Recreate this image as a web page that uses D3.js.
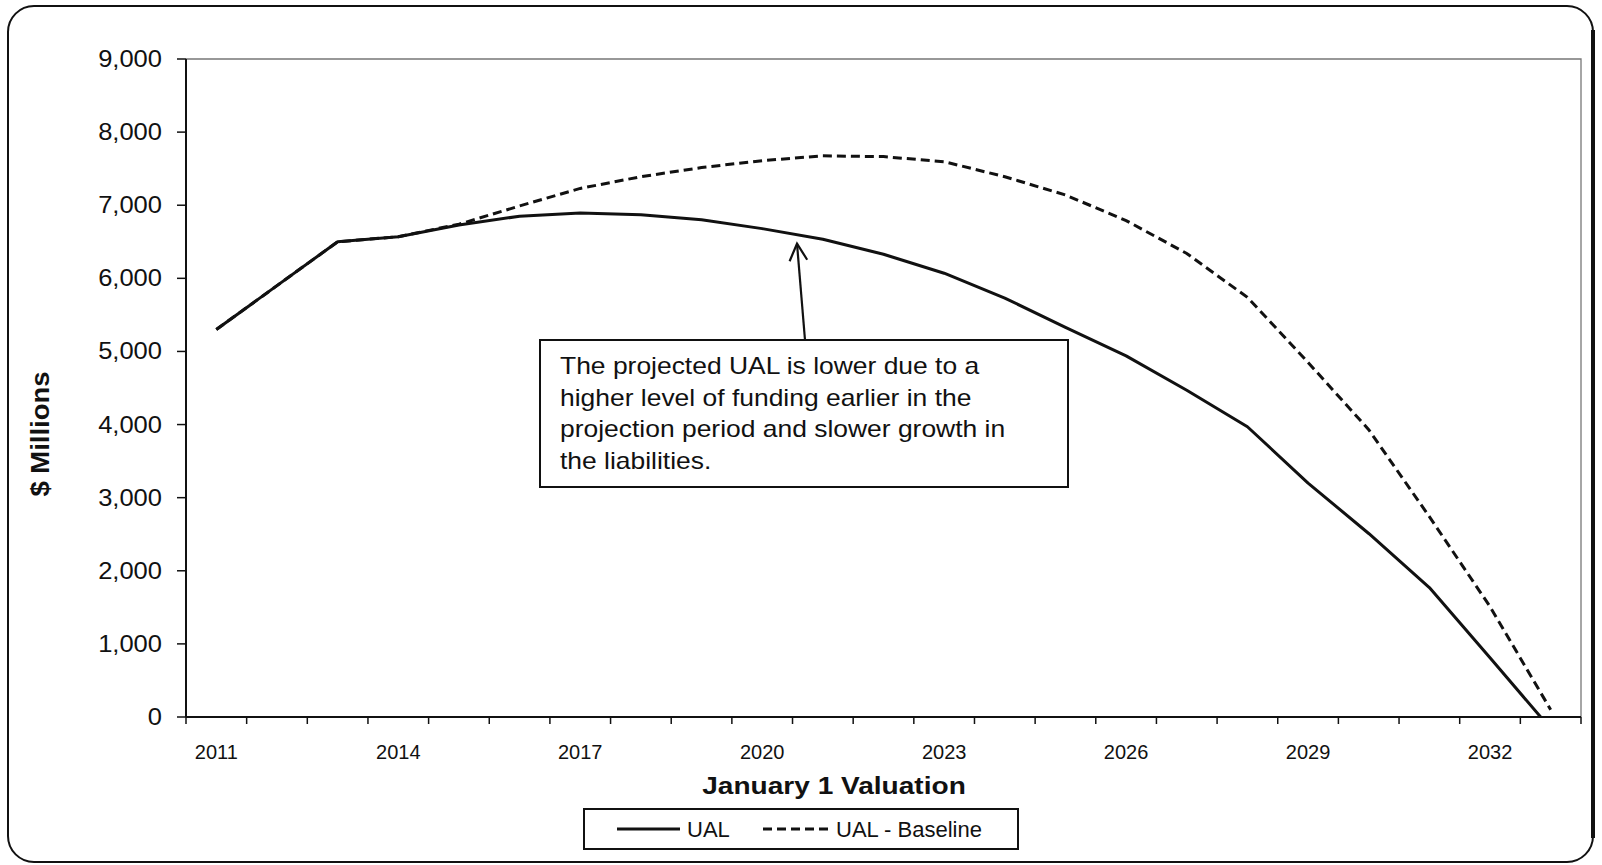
<!DOCTYPE html>
<html>
<head>
<meta charset="utf-8">
<script src="https://cdn.jsdelivr.net/npm/d3@7"></script>
<style>
  html, body { margin: 0; padding: 0; background: #fff; }
  svg { display: block; }
  text { font-family: "Liberation Sans", Arial, sans-serif; fill: #111; }
</style>
</head>
<body>
<svg id="chart" width="1602" height="865"></svg>
<script>
// Projection years (January 1 valuations)
const years = [2011, 2012, 2013, 2014, 2015, 2016, 2017, 2018, 2019, 2020, 2021, 2022,
               2023, 2024, 2025, 2026, 2027, 2028, 2029, 2030, 2031, 2032, 2033];

// Unfunded actuarial liability, $ millions
const ual = [5300, 5900, 6500, 6570, 6730, 6850, 6895, 6870, 6800, 6680, 6535, 6330,
             6070, 5730, 5330, 4940, 4470, 3970, 3200, 2510, 1770, 810, -160];

// Baseline projection, $ millions
const ualBaseline = [5300, 5900, 6500, 6570, 6740, 6990, 7230, 7390, 7515, 7610, 7675, 7665,
                     7595, 7390, 7140, 6790, 6340, 5740, 4850, 3930, 2740, 1510, 100];

const yTicks = [0, 1000, 2000, 3000, 4000, 5000, 6000, 7000, 8000, 9000];
const xLabelYears = [2011, 2014, 2017, 2020, 2023, 2026, 2029, 2032];

const seriesNames = ["UAL", "UAL - Baseline"];
const noteLines = [
  "The projected UAL is lower due to a",
  "higher level of funding earlier in the",
  "projection period and slower growth in",
  "the liabilities."
];

const svg = d3.select("#chart");
const plot = { left: 186, right: 1581, top: 59, bottom: 717 };

const x = d3.scaleBand().domain(years).range([plot.left, plot.right]).padding(0);
const y = d3.scaleLinear().domain([0, 9000]).range([plot.bottom, plot.top]);
const cx = d => x(d) + x.bandwidth() / 2;

// Outer rounded frame
svg.append("rect")
  .attr("x", 8).attr("y", 6).attr("width", 1585).attr("height", 856)
  .attr("rx", 26).attr("ry", 26)
  .attr("fill", "none").attr("stroke", "#111").attr("stroke-width", 2);
svg.append("line")
  .attr("x1", 1593).attr("x2", 1593).attr("y1", 30).attr("y2", 838)
  .attr("stroke", "#111").attr("stroke-width", 4);

// Plot area border (top and right)
svg.append("path")
  .attr("d", `M${plot.left},${plot.top}H${plot.right}V${plot.bottom}`)
  .attr("fill", "none").attr("stroke", "#777").attr("stroke-width", 1.3);

// Y axis
const yAxis = svg.append("g").attr("transform", `translate(${plot.left},0)`);
yAxis.append("line")
  .attr("x1", 0).attr("x2", 0).attr("y1", plot.top).attr("y2", plot.bottom)
  .attr("stroke", "#111").attr("stroke-width", 2);
yAxis.selectAll("line.tick").data(yTicks).join("line")
  .attr("class", "tick")
  .attr("x1", -9).attr("x2", 0)
  .attr("y1", d => y(d)).attr("y2", d => y(d))
  .attr("stroke", "#111").attr("stroke-width", 1.5);
yAxis.selectAll("text").data(yTicks).join("text")
  .attr("transform", d => `translate(-24,${y(d)}) scale(1.11,1)`)
  .attr("text-anchor", "end")
  .attr("dominant-baseline", "central")
  .style("font-size", "23px")
  .text(d => d3.format(",")(d));

// X axis
const xAxis = svg.append("g").attr("transform", `translate(0,${plot.bottom})`);
xAxis.append("line")
  .attr("x1", plot.left).attr("x2", plot.right).attr("y1", 0).attr("y2", 0)
  .attr("stroke", "#111").attr("stroke-width", 2);
const tickPos = years.map(d => x(d)).concat([x(years[years.length - 1]) + x.bandwidth()]);
xAxis.selectAll("line.tick").data(tickPos).join("line")
  .attr("class", "tick")
  .attr("x1", d => d).attr("x2", d => d)
  .attr("y1", 0).attr("y2", 7)
  .attr("stroke", "#111").attr("stroke-width", 1.5);
xAxis.selectAll("text").data(xLabelYears).join("text")
  .attr("x", d => cx(d)).attr("y", 42)
  .attr("text-anchor", "middle")
  .style("font-size", "20px")
  .text(d => d);

// Axis titles
svg.append("text")
  .attr("transform", "translate(834,794) scale(1.17,1)")
  .attr("text-anchor", "middle")
  .style("font-size", "24px").style("font-weight", "bold")
  .text("January 1 Valuation");
svg.append("text")
  .attr("transform", "translate(49,434) rotate(-90) scale(1.1,1)")
  .attr("text-anchor", "middle")
  .style("font-size", "25px").style("font-weight", "bold")
  .text("$ Millions");

// Lines, clipped to plot area
svg.append("clipPath").attr("id", "plotClip")
  .append("rect")
  .attr("x", plot.left).attr("y", plot.top)
  .attr("width", plot.right - plot.left).attr("height", plot.bottom - plot.top);

const line = d3.line().x((d, i) => cx(years[i])).y(d => y(d));
const lines = svg.append("g").attr("clip-path", "url(#plotClip)");
lines.append("path")
  .attr("d", line(ual))
  .attr("fill", "none").attr("stroke", "#111").attr("stroke-width", 3)
  .attr("stroke-linejoin", "round");
lines.append("path")
  .attr("d", line(ualBaseline))
  .attr("fill", "none").attr("stroke", "#111").attr("stroke-width", 3)
  .attr("stroke-dasharray", "9,5");

// Callout box with arrow pointing at the UAL line
const iA = years.indexOf(2020), t = 0.574;
const tipX = cx(2020) + t * x.bandwidth();
const tipY = y(ual[iA] + t * (ual[iA + 1] - ual[iA])) + 9;
const box = { x0: 540, y0: 340, x1: 1068, y1: 487 };
const tailX = 805, tailY = box.y0;

svg.append("line")
  .attr("x1", tailX).attr("y1", tailY).attr("x2", tipX).attr("y2", tipY)
  .attr("stroke", "#111").attr("stroke-width", 2.2);
{
  const ang = Math.atan2(tipY - tailY, tipX - tailX);
  const L = 19, spread = Math.PI / 6.5;
  const p1 = [tipX - L * Math.cos(ang - spread), tipY - L * Math.sin(ang - spread)];
  const p2 = [tipX - L * Math.cos(ang + spread), tipY - L * Math.sin(ang + spread)];
  svg.append("path")
    .attr("d", `M${p1[0]},${p1[1]}L${tipX},${tipY}L${p2[0]},${p2[1]}`)
    .attr("fill", "none").attr("stroke", "#111").attr("stroke-width", 2.2);
}
svg.append("rect")
  .attr("x", box.x0).attr("y", box.y0)
  .attr("width", box.x1 - box.x0).attr("height", box.y1 - box.y0)
  .attr("fill", "#fff").attr("stroke", "#111").attr("stroke-width", 2);
svg.selectAll("text.note").data(noteLines).join("text")
  .attr("class", "note")
  .attr("transform", (d, i) => `translate(560,${374 + i * 31.6}) scale(1.15,1)`)
  .style("font-size", "23px")
  .text(d => d);

// Legend
const leg = svg.append("g");
leg.append("rect")
  .attr("x", 584).attr("y", 809).attr("width", 434).attr("height", 40)
  .attr("fill", "#fff").attr("stroke", "#111").attr("stroke-width", 2);
leg.append("line")
  .attr("x1", 617).attr("x2", 680).attr("y1", 829).attr("y2", 829)
  .attr("stroke", "#111").attr("stroke-width", 3);
leg.append("text").attr("x", 687).attr("y", 837)
  .style("font-size", "22px").text(seriesNames[0]);
leg.append("line")
  .attr("x1", 763).attr("x2", 832).attr("y1", 829).attr("y2", 829)
  .attr("stroke", "#111").attr("stroke-width", 3).attr("stroke-dasharray", "9,5");
leg.append("text").attr("x", 836).attr("y", 837)
  .style("font-size", "22px").text(seriesNames[1]);
</script>
</body>
</html>
